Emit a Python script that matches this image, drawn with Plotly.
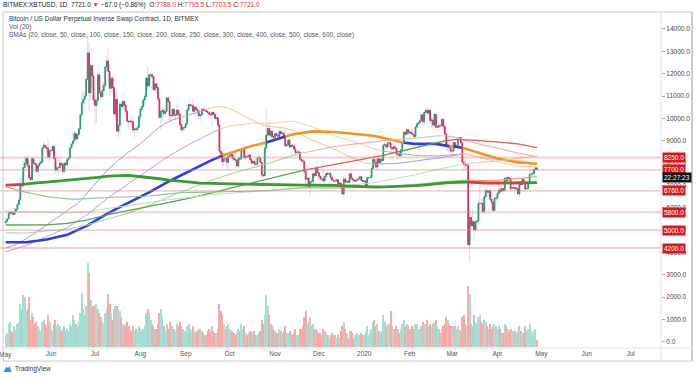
import pandas as pd
import plotly.graph_objects as go

# ---------------- data ----------------
FIRST_OPEN = 5320.0
CLOSE = {
 "2019-05": [5400,5500,5750,5830,5750,5700,5850,5940,6150,6350,7000,6980,7800,7990,8200,7880,7350,7260,8190,7990,7950,7630,7880,7990,8050,8680,8800,8720,8660,8270,8550],
 "2019-06": [8560,8740,8200,7690,7790,7800,8000,7930,7630,8000,7920,8160,8230,8690,8850,8990,9320,9080,9270,9530,10160,10700,10850,11000,11750,12930,11140,12370,11900,10820],
 "2019-07": [10580,10800,11950,11150,10970,11250,11480,12300,12570,12100,11350,11800,11380,10200,10850,9430,9690,10630,10530,10760,10590,10320,9870,9840,9880,9850,9480,9530,9500,9590,10080],
 "2019-08": [10400,10530,10820,10980,11800,11450,11950,11950,11860,11280,11550,11390,10880,10050,10310,10360,10220,10320,10920,10760,10130,10120,10410,10140,10140,10370,10190,9720,9490,9580,9600],
 "2019-09": [9760,10380,10620,10580,10580,10320,10500,10400,10330,10110,10150,10410,10360,10360,10310,10260,10190,10160,10270,10180,9990,10030,9700,8530,8430,8060,8190,8210,8040,8300],
 "2019-10": [8320,8380,8230,8150,8140,7870,8210,8180,8590,8590,8260,8300,8290,8360,8160,8000,8080,7960,7950,8230,8230,8030,7470,7430,8660,9260,9550,9250,9430,9180,9150],
 "2019-11": [9310,9240,9200,9410,9320,9340,9200,8770,8810,9030,8720,8800,8760,8630,8460,8490,8500,8170,8120,8080,7620,7280,7320,6910,7150,7180,7520,7440,7760,7570],
 "2019-12": [7410,7300,7300,7200,7400,7540,7510,7530,7350,7240,7210,7200,7260,7080,7110,6880,6620,7290,7150,7190,7140,7520,7320,7250,7200,7210,7250,7310,7390,7220,7180],
 "2020-01": [7200,6960,7350,7350,7360,7760,8160,8040,7820,8190,8020,8180,8110,8810,8820,8720,8900,8910,8700,8630,8730,8660,8390,8430,8330,8590,8900,9380,9290,9500,9350],
 "2020-02": [9380,9330,9290,9180,9610,9750,9800,9900,10160,9850,10270,10350,10240,10370,9900,9930,9700,10180,9600,9610,9690,9670,9960,9650,9310,8790,8790,8680,8540],
 "2020-03": [8540,8920,8760,8760,9070,9140,8900,8040,7940,7910,7910,4350,5570,5200,5390,5020,5360,5410,6190,6200,6190,5830,6490,6770,6700,6760,6380,6250,5880,6410,6440],
 "2020-04": [6640,6800,6740,6860,6780,7330,7200,7360,7300,6860,6890,6910,6850,6860,6620,7110,7040,7260,7130,6840,6860,7130,7490,7510,7540,7700,7788,7721],
}
HIGH = {
 "2019-05": [5440,5550,5890,5990,5850,5790,6000,6000,6190,6440,7400,7500,8100,8300,8290,8380,7900,7480,8280,8200,8080,8030,7900,8150,8130,8750,8950,8810,8730,9050,8580],
 "2019-06": [8630,8820,8740,8200,7900,7850,8140,8060,7940,8050,8020,8230,8310,8700,8900,9350,9450,9350,9300,9590,10180,11200,11300,11200,11800,13800,13400,12460,12300,12100],
 "2019-07": [11200,10900,11980,12050,11400,11650,11600,12350,12800,13200,12120,11900,11900,11450,11050,11000,9950,10750,10700,11100,10750,10650,10320,9920,10180,9900,10190,9600,9720,9720,10130],
 "2019-08": [10500,10660,10900,11080,11880,12300,12000,12030,12130,11900,11580,11550,11420,10880,10420,10520,10470,10480,10950,10950,10770,10230,10450,10430,10330,10630,10400,10280,9720,9680,9680],
 "2019-09": [9800,10420,10800,10640,10650,10900,10540,10580,10450,10380,10230,10450,10440,10410,10380,10340,10270,10250,10320,10280,10190,10080,10050,9800,8730,8480,8270,8300,8250,8340],
 "2019-10": [8520,8400,8390,8250,8180,8180,8320,8330,8680,8650,8780,8420,8420,8390,8400,8180,8110,8110,8070,8280,8320,8330,8050,7500,8800,10400,9800,9950,9550,9440,9300],
 "2019-11": [9320,9380,9340,9550,9450,9400,9370,9220,8860,9100,9070,8850,8820,8790,8730,8530,8640,8510,8200,8180,8100,7690,7370,7340,7350,7300,7650,7620,7860,7820],
 "2019-12": [7580,7410,7400,7750,7480,7570,7620,7560,7620,7400,7280,7250,7300,7270,7150,7130,6940,7440,7370,7220,7200,7530,7690,7440,7270,7440,7280,7370,7520,7420,7300],
 "2020-01": [7250,7220,7400,7390,7490,7780,8200,8450,8060,8200,8280,8200,8190,8880,8920,8830,9000,9000,9190,8730,8750,8790,8670,8500,8440,8600,8970,9400,9430,9550,9530],
 "2020-02": [9440,9480,9600,9300,9700,9860,9870,9950,10170,10180,10300,10480,10500,10400,10380,10050,9960,10250,10200,9690,9780,9720,9990,10000,9680,9340,8950,8900,8800],
 "2020-03": [8750,8960,8920,8850,9150,9180,9200,8910,8160,8150,7970,7960,5950,5650,5950,5400,5550,5430,6380,6960,6420,6420,6600,6850,6980,6800,6880,6290,6250,6600,6530],
 "2020-04": [6700,7200,7000,6950,6880,7380,7460,7420,7380,7300,6950,7200,6920,6990,6930,7200,7150,7300,7260,7230,6930,7150,7740,7600,7700,7720,7800,7795.5],
}
LOW = {
 "2019-05": [5320,5380,5480,5580,5700,5600,5700,5800,5930,6120,6350,6600,6900,7600,7880,7650,6400,7200,7230,7570,7800,7540,7500,7820,7950,7920,8640,8600,8420,8100,8100],
 "2019-06": [8480,8550,8150,7500,7600,7460,7770,7850,7560,7560,7690,7840,8040,8200,8630,8830,8980,9000,9080,9250,9520,10000,10700,10600,10980,11700,10300,10800,11380,10700],
 "2019-07": [9700,9800,10780,11050,10800,10980,11000,11380,12100,11600,11000,11100,11100,10100,9900,9380,9100,9320,10100,10400,10200,10080,9850,9550,9800,9680,9350,9150,9430,9400,9580],
 "2019-08": [9920,10400,10520,10600,10980,11300,11450,11550,11750,11250,11200,11150,10800,10000,9480,9900,9990,10140,10280,10660,9820,9850,10050,9950,9900,10130,10050,9600,9350,9400,9450],
 "2019-09": [9520,9740,10360,10400,10470,10200,10300,10300,10120,9980,9870,10100,10150,10280,10250,10100,10130,10100,9680,10080,9960,9900,9620,8200,8250,7800,7870,8080,7950,7730],
 "2019-10": [8200,8180,8100,8000,8050,7820,7760,8120,8130,8460,8240,8250,8200,8220,8100,7930,7950,7850,7900,7870,8160,8000,7320,7370,7410,8950,9100,9180,9100,8980,8900],
 "2019-11": [9030,9200,9080,9150,9190,9250,9120,8700,8750,8770,8630,8700,8700,8580,8380,8440,8450,8070,8010,8030,7500,6790,7100,6870,6530,7080,6880,7390,7430,7520],
 "2019-12": [7260,7210,7250,7100,7180,7370,7490,7420,7300,7180,7150,7100,7200,7050,7040,6860,6560,6440,7040,7120,7120,7130,7270,7160,7140,7160,7100,7250,7300,7200,7150],
 "2020-01": [7150,6930,6860,7270,7320,7350,7740,7880,7760,7680,8000,7970,8070,8100,8580,8620,8670,8800,8500,8520,8560,8620,8300,8260,8250,8280,8560,8880,9230,9220,9210],
 "2020-02": [9320,9150,9230,9120,9160,9530,9720,9670,9880,9730,9720,10260,10100,10130,9800,9600,9460,9600,9590,9420,9560,9600,9650,9500,9270,8550,8530,8440,8500],
 "2020-03": [8420,8520,8650,8680,8760,9000,8870,8000,7650,7730,7600,4300,3600,5070,5110,4450,4950,5000,5260,5650,5850,5750,5680,6400,6480,6550,6300,5880,5860,5860,6340],
 "2020-04": [6180,6600,6630,6700,6700,6770,7100,7150,7110,6750,6780,6850,6550,6780,6610,6480,7000,7020,7080,6800,6800,6840,7050,7460,7450,7480,7660,7703.5],
}
VOLUME = {
 "2019-05": [500,600,1000,1100,700,650,900,800,1000,1100,1900,1700,2300,2200,1600,1700,2200,1200,1500,1300,1000,1100,900,800,700,1100,1200,1000,900,1400,1100],
 "2019-06": [800,700,1000,1200,900,1000,900,700,800,900,700,800,700,1000,900,1400,1200,1000,900,1100,1500,2400,1700,1400,1800,3750,3300,2100,1700,1800],
 "2019-07": [1800,1900,1700,1500,1300,1100,1000,1500,1700,2350,1900,1500,1200,1700,1800,1800,1700,1600,1300,1000,900,1000,1100,900,800,700,900,700,800,700,900],
 "2019-08": [800,700,800,900,1500,1700,1500,1200,1000,900,800,800,1000,1500,1700,1300,900,700,1000,800,1100,900,900,800,700,1000,900,1100,900,800,700],
 "2019-09": [700,900,1000,800,700,900,700,600,700,800,800,700,600,500,500,700,800,700,900,700,600,600,800,1900,1600,1400,1000,800,900,1000],
 "2019-10": [800,700,700,600,500,600,800,700,1000,800,900,600,500,600,700,700,600,700,500,500,600,700,1200,1000,1400,2300,1800,1400,1000,900,800],
 "2019-11": [700,600,600,800,700,600,700,900,600,600,700,600,500,600,800,500,500,800,800,900,1300,1600,1000,1100,1300,900,1000,800,800,700],
 "2019-12": [600,600,500,800,700,600,500,400,500,600,500,500,400,500,400,700,900,1100,800,600,400,700,700,600,400,500,600,500,500,600,500],
 "2020-01": [500,600,900,500,600,800,1100,1200,900,1000,700,600,700,1400,1100,900,1000,1000,1600,900,800,800,900,800,600,800,1000,1200,900,1000,900],
 "2020-02": [800,700,900,800,1000,1000,800,800,900,1100,1000,1000,1200,900,1000,900,1000,1100,1200,900,800,600,800,900,1000,1300,1200,1000,900],
 "2020-03": [700,900,900,800,900,800,700,1300,1400,1000,900,2700,2350,1000,900,1400,1100,1000,1300,1400,1100,1000,1200,1100,900,800,1000,800,900,1000,900],
 "2020-04": [800,900,800,600,600,1000,900,800,700,800,600,700,700,600,700,900,700,600,600,900,700,800,1000,700,600,700,800,300],
}

# moving-average lines, read at weekly / fortnightly points (last point = 2020-04-28)
WEEKLY = [d.strftime("%Y-%m-%d") for d in pd.date_range("2019-05-01", periods=52, freq="7D")] + ["2020-04-28"]
FORTNIGHTLY = [d.strftime("%Y-%m-%d") for d in pd.date_range("2019-05-01", periods=26, freq="14D")] + ["2020-04-28"]
SMA100 = [4210,4360,4620,4910,5240,5550,5840,6190,6680,7200,7720,8120,8500,8810,9220,9610,9880,10040,10180,10300,10470,10540,10410,10170,9950,9710,9620,9590,9470,9240,9020,8820,8650,8410,8190,8000,7950,7960,7980,8030,8090,8140,8210,8280,8360,8430,8270,8220,8160,8150,8120,8050,7970]
SMA150 = [4040,4310,4710,5110,5710,6450,7080,7690,8340,8860,9340,9670,9780,9790,9880,9610,9230,8960,8620,8450,8340,8320,8400,8260,8040,7860,7840]
SMA200 = [4460,4460,4580,4790,5210,5760,6230,6690,7200,7660,8110,8460,8760,9010,9280,9420,9390,9310,9210,9010,8860,8860,8720,8490,8210,8030,7970]
SMA250 = [4880,4870,4960,5040,5240,5520,5770,6100,6510,6860,7220,7520,7780,8050,8340,8560,8730,8850,8960,9060,9110,9210,9140,8880,8660,8450,8280]
SMA300 = [5230,5220,5240,5300,5460,5690,5870,6050,6260,6430,6660,6880,7100,7320,7560,7760,7940,8100,8260,8470,8670,8900,9060,9020,8930,8860,8690]
SMA400 = [5850,5820,5810,5780,5830,5970,6090,6230,6380,6460,6590,6670,6720,6790,6880,6930,6960,7020,7130,7300,7480,7700,7890,8010,8100,8210,8310]
SMA500 = [6940,6800,6690,6590,6500,6450,6400,6390,6420,6450,6470,6480,6480,6490,6530,6580,6630,6670,6680,6700,6720,6730,6730,6730,6740,6750,6780,6820,6860,6890,6900,6890,6890,6890,6900,6900,6920,6940,6970,7000,7040,7090,7140,7180,7210,7240,7220,7220,7230,7270,7310,7360,7400]
SMA600 = [7010,7030,7070,7110,7150,7190,7220,7260,7310,7360,7420,7440,7450,7400,7360,7300,7240,7190,7130,7100,7090,7080,7080,7070,7040,7020,7010,7000,7010,7010,7010,7020,7000,6980,6960,6940,6930,6940,6950,6970,6990,7030,7080,7110,7140,7150,7120,7110,7110,7110,7110,7120,7130]
# price above the line at the start, and the days the line changes colour (price crosses it)
SMA_START_ABOVE = {100: True, 150: True, 200: True, 250: True, 300: True, 400: False, 500: False, 600: False}
SMA_FLIPS = {
 100: [("2019-08-28",10040),("2019-09-02",10140),("2019-09-10",10280),("2019-09-12",10330),("2019-09-14",10380),("2020-01-07",7950),("2020-03-08",8410)],
 150: [("2019-09-24",9520),("2020-01-14",8530),("2020-03-08",8410)],
 200: [("2019-09-26",8330),("2019-10-26",8920),("2019-11-08",9190),("2020-01-28",8910),("2020-02-28",8760),("2020-03-02",8740),("2020-03-08",8690)],
 250: [("2019-10-23",7910),("2019-10-25",7940),("2019-11-18",8430),("2020-01-28",9080),("2020-02-26",9220)],
 300: [("2019-11-21",7690),("2020-01-14",8350),("2020-01-23",8490),("2020-01-26",8530),("2020-02-26",9000)],
 400: [("2019-05-07",5820),("2019-12-16",6970),("2019-12-18",6980),("2020-03-09",7960)],
 500: [("2019-05-11",6750),("2019-12-16",6890),("2019-12-18",6890),("2020-03-12",7230),("2020-04-06",7260),("2020-04-10",7280),("2020-04-23",7360)],
 600: [("2019-05-13",7050),("2019-12-16",6990),("2019-12-18",6980),("2020-03-12",7150),("2020-04-06",7110),("2020-04-10",7110),("2020-04-18",7120),("2020-04-20",7120),("2020-04-22",7120)],
}
SMA_SERIES = {100: (WEEKLY, SMA100), 150: (FORTNIGHTLY, SMA150), 200: (FORTNIGHTLY, SMA200), 250: (FORTNIGHTLY, SMA250),
              300: (FORTNIGHTLY, SMA300), 400: (FORTNIGHTLY, SMA400), 500: (WEEKLY, SMA500), 600: (WEEKLY, SMA600)}

LEVELS = [8250.0, 7700.0, 6760.0, 5800.0, 5000.0, 4200.0]
CLOCK_LABEL, CLOCK_PRICE = "22:27:23", 7376
MONTH_TICKS = ["2019-05-01","2019-06-01","2019-07-01","2019-08-01","2019-09-01","2019-10-01","2019-11-01","2019-12-01","2020-01-01","2020-02-01","2020-03-01","2020-04-01","2020-05-01","2020-06-01","2020-07-01"]
MONTH_LABELS = ["May","Jun","Jul","Aug","Sep","Oct","Nov","Dec","2020","Feb","Mar","Apr","May","Jun","Jul"]
PRICE_TICKS = list(range(0, 14001, 1000))

# ---------------- figure ----------------
closes = [v for k in CLOSE for v in CLOSE[k]]
highs = [v for k in HIGH for v in HIGH[k]]
lows = [v for k in LOW for v in LOW[k]]
vols = [v for k in VOLUME for v in VOLUME[k]]
dates = pd.date_range("2019-05-01", periods=len(closes), freq="D")
opens = [FIRST_OPEN] + closes[:-1]
highs = [max(h, o, c) for h, o, c in zip(highs, opens, closes)]
lows = [min(l, o, c) for l, o, c in zip(lows, opens, closes)]
up = [c >= o for o, c in zip(opens, closes)]

UP, DN = "#1f9b7a", "#e2265d"
fig = go.Figure()
fig.add_trace(go.Bar(x=dates, y=vols, yaxis="y2", width=0.8 * 86400000, hoverinfo="skip",
                     marker=dict(color=["#a6ddd4" if u else "#f7aaa8" for u in up], line=dict(width=0))))
fig.add_trace(go.Candlestick(x=dates, open=opens, high=highs, low=lows, close=closes, whiskerwidth=0,
                             increasing=dict(line=dict(color="rgba(120,175,165,0.45)", width=0.8), fillcolor="rgba(120,175,165,0.45)"),
                             decreasing=dict(line=dict(color="rgba(228,150,168,0.5)", width=0.8), fillcolor="rgba(228,150,168,0.5)")))
fig.add_trace(go.Candlestick(x=dates, open=opens, close=closes,
                             high=[max(o, c) for o, c in zip(opens, closes)], low=[min(o, c) for o, c in zip(opens, closes)],
                             whiskerwidth=0,
                             increasing=dict(line=dict(color=UP, width=0.9), fillcolor=UP),
                             decreasing=dict(line=dict(color=DN, width=0.9), fillcolor=DN)))

STYLE = {100: ("#a098ef", "#f8c28f", 1.0), 150: ("#aea6f1", "#f9cda3", 1.0), 200: ("#2e3be6", "#f7931e", 2.6),
         250: ("#a4d79e", "#f1ada3", 1.1), 300: ("#52a84c", "#e65a55", 1.3), 400: ("#bcdfb5", "#f4c2ba", 1.0),
         500: ("#8dca87", "#ef8c86", 1.1), 600: ("#3a9a34", "#e53935", 2.8)}

def sma_runs(sample_dates, sample_vals, start_above, flips):
    pts = {pd.Timestamp(d): v for d, v in zip(sample_dates, sample_vals)}
    flip_dates = set()
    for d, v in flips:
        t = pd.Timestamp(d)
        flip_dates.add(t)
        pts.setdefault(t, v)
    keys = sorted(pts)
    state, seg = start_above, []
    for k in keys[:-1]:
        if k in flip_dates:
            state = not state
        seg.append(state)
    out = {True: ([], []), False: ([], [])}
    i = 0
    while i < len(seg):
        j = i
        while j + 1 < len(seg) and seg[j + 1] == seg[i]:
            j += 1
        xs, ys = out[seg[i]]
        if xs:
            xs.append(None); ys.append(None)
        xs.extend(keys[i:j + 2]); ys.extend(pts[k] for k in keys[i:j + 2])
        i = j + 1
    return out

for N, (ca, cb, w) in STYLE.items():
    sd, sv = SMA_SERIES[N]
    runs = sma_runs(sd, sv, SMA_START_ABOVE[N], SMA_FLIPS[N])
    for st, col in ((False, cb), (True, ca)):
        xs, ys = runs[st]
        if xs:
            fig.add_trace(go.Scatter(x=xs, y=ys, mode="lines", line=dict(color=col, width=w), hoverinfo="skip", connectgaps=False))

def px(xp): return xp / 661.0
def py(yp): return (348.0 - yp) / 336.0

FONT = "Liberation Sans, Arial, sans-serif"
for lv in LEVELS:
    fig.add_shape(type="line", xref="paper", x0=0, x1=1, yref="y", y0=lv, y1=lv,
                  line=dict(color="rgba(222,130,130,0.38)", width=1.8))
    fig.add_annotation(x=1, xref="paper", xanchor="left", xshift=1, y=lv, yref="y", text=f"{lv:.1f}",
                       showarrow=False, bgcolor="#d7191c", font=dict(color="white", size=6.5, family=FONT), borderpad=1)
fig.add_annotation(x=1, xref="paper", xanchor="left", xshift=1, y=CLOCK_PRICE, yref="y", text=CLOCK_LABEL,
                   showarrow=False, bgcolor="#111111", font=dict(color="white", size=6.5, family=FONT), borderpad=1)

RED = "#e0312e"
hdr = ("BITMEX:XBTUSD, 1D&nbsp; 7721.0 <span style='color:%s'>▼</span> −67.0 (−0.86%%)&nbsp; O:<span style='color:%s'>7788.0</span>"
       " H:<span style='color:%s'>7795.5</span> L:<span style='color:%s'>7703.5</span> C:<span style='color:%s'>7721.0</span>") % (RED, RED, RED, RED, RED)
fig.add_annotation(x=px(1), y=py(5), xref="paper", yref="paper", xanchor="left", yanchor="middle", showarrow=False,
                   text=hdr, font=dict(size=6.5, color="#222", family=FONT))
for t, yy, col in [("Bitcoin / US Dollar Perpetual Inverse Swap Contract, 1D, BITMEX", 19, "#333"), ("Vol (20)", 27, "#555"),
                   ("SMAs (20, close, 50, close, 100, close, 150, close, 200, close, 250, close, 300, close, 400, close, 500, close, 600, close)", 35, "#555")]:
    fig.add_annotation(x=px(7), y=py(yy), xref="paper", yref="paper", xanchor="left", yanchor="middle", showarrow=False,
                       text=t, font=dict(size=6.5, color=col, family=FONT))
# first month label sits on the left edge of the time scale (partly cut off, as in the reference)
fig.add_annotation(x=MONTH_TICKS[0], xref="x", y=py(354.5), yref="paper", xanchor="center", yanchor="middle", showarrow=False,
                   text=MONTH_LABELS[0], font=dict(size=6.5, color="#555", family=FONT))
fig.add_annotation(x=px(12.5), y=py(369), xref="paper", yref="paper", xanchor="left", yanchor="middle", showarrow=False,
                   text="TradingView", font=dict(size=6.5, color="#333", family=FONT))
fig.add_shape(type="path", xref="paper", yref="paper",
              path=f"M {px(3.5)} {py(372)} L {px(6.5)} {py(366.5)} L {px(8)} {py(368.5)} L {px(9.5)} {py(366)} L {px(11.5)} {py(372)} Z",
              fillcolor="#2196f3", line=dict(width=0))

G1, G2 = "#c5c8ce", "#e0e3e8"
for (x0, y0, x1, y1, c) in [(3, 12, 692, 12, G1), (3, 12, 3, 361, G1), (692, 12, 692, 361, "#9598a1"), (3, 361, 692, 361, G1),
                            (661, 12, 661, 361, G2), (3, 348, 692, 348, G2)]:
    fig.add_shape(type="line", xref="paper", yref="paper", x0=px(x0), x1=px(x1), y0=py(y0), y1=py(y1), line=dict(color=c, width=1))

fig.update_layout(
    width=700, height=379, margin=dict(l=0, r=39, t=12, b=31, pad=0), autosize=False,
    paper_bgcolor="white", plot_bgcolor="white", showlegend=False, boxmode="overlay", bargap=0,
    font=dict(family=FONT),
    xaxis=dict(type="date", range=["2019-04-27 02:30", "2020-07-21 18:15"], tickvals=MONTH_TICKS[1:], ticktext=MONTH_LABELS[1:],
               showgrid=False, zeroline=False, showline=False, ticks="", tickfont=dict(size=6.5, color="#555"),
               rangeslider=dict(visible=False), fixedrange=True, automargin=False),
    yaxis=dict(side="right", range=[-273, 14760], tickvals=PRICE_TICKS, ticktext=[f"{v:.1f}" for v in PRICE_TICKS],
               showgrid=False, zeroline=False, showline=False, ticks="outside", ticklen=3, tickcolor="#aaa",
               tickfont=dict(size=6.5, color="#444"), fixedrange=True, automargin=False),
    yaxis2=dict(overlaying="y", range=[-67, 14980], visible=False, fixedrange=True, automargin=False),
)
fig.write_html("out.html", config={"displayModeBar": False},
               post_script="document.body.style.margin='0px';document.body.style.padding='0px';document.body.style.overflow='hidden';")
